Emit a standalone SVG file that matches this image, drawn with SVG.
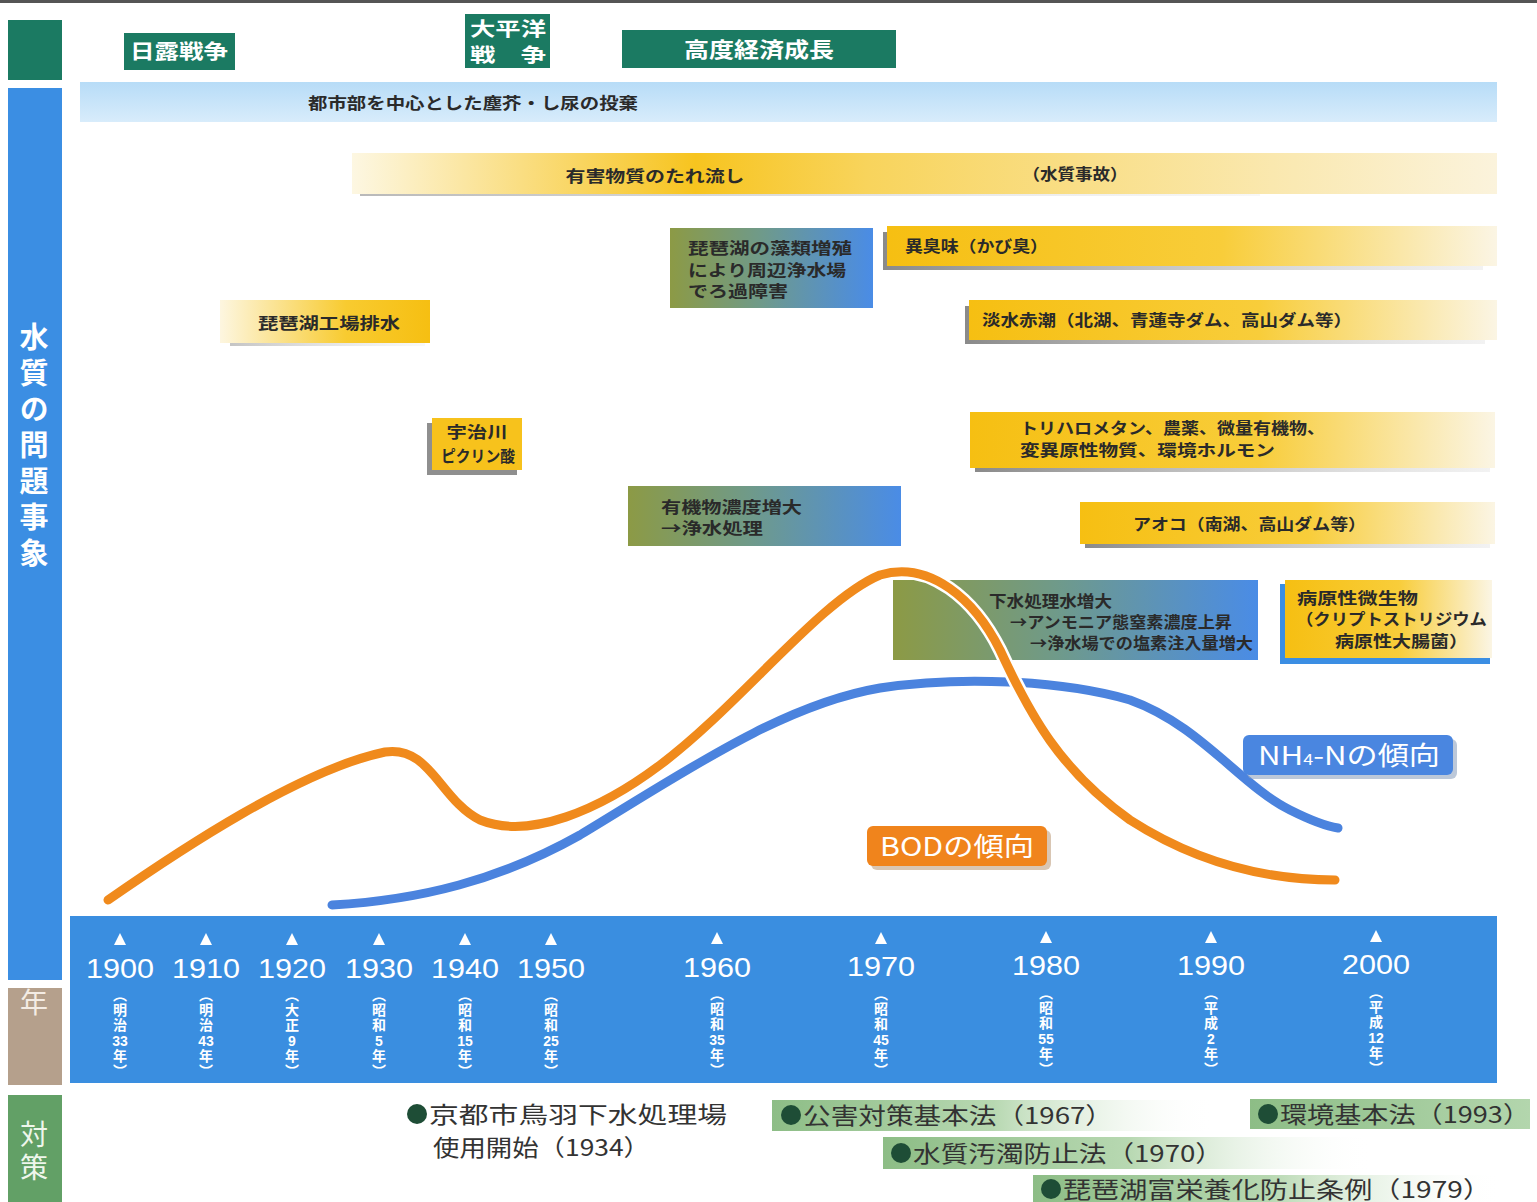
<svg xmlns="http://www.w3.org/2000/svg" width="1537" height="1202" viewBox="0 0 1537 1202">
<defs>
<style>
.jp{font-family:"Noto Sans CJK JP","Noto Sans CJK SC",sans-serif;}
.dk{fill:#2a2a2a;font-weight:bold;font-size:16px;}
.wh{fill:#ffffff;font-weight:bold;}
.yr{font-family:"Liberation Sans","DejaVu Sans",sans-serif;fill:#ffffff;font-size:28px;text-anchor:middle;}
.vv{fill:#ffffff;font-size:14px;font-weight:bold;writing-mode:vertical-rl;letter-spacing:1px;}
.dg{font-family:"Liberation Sans","DejaVu Sans",sans-serif;fill:#ffffff;font-size:14px;font-weight:bold;text-anchor:middle;}
.ms{fill:#333333;font-size:23px;}
.bul{fill:#1e4d36;}
.teal{fill:#1b7a62;}
.shadow{fill:url(#shadowG);}
.curve{fill:none;stroke-linecap:round;}
</style>
<linearGradient id="blueBand" x1="0" y1="0" x2="0" y2="1">
<stop offset="0" stop-color="#b7dcf7"/><stop offset="1" stop-color="#d8ecfb"/>
</linearGradient>
<linearGradient id="yelMid" x1="0" y1="0" x2="1" y2="0">
<stop offset="0" stop-color="#fdf7e2"/><stop offset="0.3" stop-color="#f7c41f"/><stop offset="0.45" stop-color="#f8d45c"/><stop offset="1" stop-color="#fbf3dc"/>
</linearGradient>
<linearGradient id="yelR" x1="0" y1="0" x2="1" y2="0">
<stop offset="0" stop-color="#f6bf12"/><stop offset="0.55" stop-color="#f8cd3a"/><stop offset="1" stop-color="#fbf5e4"/>
</linearGradient>
<linearGradient id="yelL" x1="0" y1="0" x2="1" y2="0">
<stop offset="0" stop-color="#fdf6e0"/><stop offset="0.6" stop-color="#f8cb30"/><stop offset="1" stop-color="#f6bf12"/>
</linearGradient>
<linearGradient id="oliveBlue" x1="0" y1="0" x2="1" y2="0">
<stop offset="0" stop-color="#8c9a45"/><stop offset="0.45" stop-color="#6f9a8a"/><stop offset="1" stop-color="#4a8ce6"/>
</linearGradient>
<linearGradient id="shadowG" x1="0" y1="0" x2="1" y2="0">
<stop offset="0" stop-color="#8a8a8a"/><stop offset="1" stop-color="#bfbfbf" stop-opacity="0.2"/>
</linearGradient>
<linearGradient id="greenFade" x1="0" y1="0" x2="1" y2="0">
<stop offset="0" stop-color="#8dbd86"/><stop offset="0.5" stop-color="#b7d8b1"/><stop offset="1" stop-color="#ffffff" stop-opacity="0"/>
</linearGradient>
<linearGradient id="greenSolid" x1="0" y1="0" x2="1" y2="0">
<stop offset="0" stop-color="#8dbd86"/><stop offset="1" stop-color="#b3d6ad"/>
</linearGradient>
</defs>

<rect x="0" y="0" width="1537" height="1202" fill="#ffffff"/>
<rect x="0" y="0" width="1537" height="3" fill="#555555"/>

<!-- left column -->
<g id="left-column">
<rect x="8" y="20" width="54" height="60" class="teal"/>
<rect x="8" y="88" width="54" height="892" fill="#3b8ee3"/>
<text x="34" y="322" class="jp wh" font-size="29" writing-mode="vertical-rl" letter-spacing="7">水質の問題事象</text>
<rect x="8" y="988" width="54" height="97" fill="#b5a08c"/>
<text x="34" y="1013" class="jp" fill="#f4ece4" font-size="28" text-anchor="middle">年</text>
<rect x="8" y="1095" width="54" height="107" fill="#62a066"/>
<text x="34" y="1120" class="jp" fill="#eef6ec" font-size="28" writing-mode="vertical-rl" letter-spacing="5">対策</text>
</g>

<!-- header events -->
<g id="ev-nichiro">
<rect x="124" y="33" width="111" height="37" class="teal"/>
<text x="179" y="59" class="jp wh" font-size="20" text-anchor="middle" textLength="98" lengthAdjust="spacingAndGlyphs">日露戦争</text>
</g>
<g id="ev-taiheiyo">
<rect x="465" y="14" width="85" height="54" class="teal"/>
<text x="508" y="36" class="jp wh" font-size="19" text-anchor="middle" textLength="76" lengthAdjust="spacingAndGlyphs">大平洋</text>
<text x="508" y="62" class="jp wh" font-size="19" text-anchor="middle" textLength="76" lengthAdjust="spacingAndGlyphs">戦　争</text>
</g>
<g id="ev-koudo">
<rect x="622" y="30" width="274" height="38" class="teal"/>
<text x="759" y="57" class="jp wh" font-size="21" text-anchor="middle" textLength="150" lengthAdjust="spacingAndGlyphs">高度経済成長</text>
</g>

<!-- problem bands -->
<g id="p-toshi">
<rect x="80" y="82" width="1417" height="40" fill="url(#blueBand)"/>
<text x="473" y="109" class="jp dk" font-size="16" text-anchor="middle" textLength="330" lengthAdjust="spacingAndGlyphs">都市部を中心とした塵芥・し尿の投棄</text>
</g>
<g id="p-yugai">
<rect x="360" y="190" width="900" height="6" class="shadow" opacity="0.6"/>
<rect x="352" y="153" width="1145" height="41" fill="url(#yelMid)"/>
<text x="655" y="182" class="jp dk" font-size="18" text-anchor="middle" textLength="179" lengthAdjust="spacingAndGlyphs">有害物質のたれ流し</text>
<text x="1075" y="180" class="jp dk" font-size="16" text-anchor="middle" fill="#444" textLength="105" lengthAdjust="spacingAndGlyphs">（水質事故）</text>
</g>
<g id="p-biwako-sorui">
<rect x="670" y="228" width="203" height="80" fill="url(#oliveBlue)"/>
<text x="688" y="254" class="jp dk" font-size="17" textLength="164" lengthAdjust="spacingAndGlyphs">琵琶湖の藻類増殖</text>
<text x="688" y="276" class="jp dk" font-size="17" textLength="158" lengthAdjust="spacingAndGlyphs">により周辺浄水場</text>
<text x="688" y="297" class="jp dk" font-size="17" textLength="100" lengthAdjust="spacingAndGlyphs">でろ過障害</text>
</g>
<g id="p-ishumi">
<rect x="883" y="232" width="600" height="38" class="shadow"/>
<rect x="887" y="226" width="610" height="40" fill="url(#yelR)"/>
<text x="905" y="252" class="jp dk" font-size="17" textLength="143" lengthAdjust="spacingAndGlyphs">異臭味（かび臭）</text>
</g>
<g id="p-tansui">
<rect x="965" y="306" width="520" height="38" class="shadow"/>
<rect x="969" y="300" width="528" height="40" fill="url(#yelR)"/>
<text x="982" y="326" class="jp dk" font-size="17" textLength="370" lengthAdjust="spacingAndGlyphs">淡水赤潮（北湖、青蓮寺ダム、高山ダム等）</text>
</g>
<g id="p-biwako-kojo">
<rect x="230" y="338" width="195" height="8" class="shadow" opacity="0.5"/>
<rect x="220" y="300" width="210" height="43" fill="url(#yelL)"/>
<text x="329" y="329" class="jp dk" font-size="17" text-anchor="middle" textLength="142" lengthAdjust="spacingAndGlyphs">琵琶湖工場排水</text>
</g>
<g id="p-ujigawa">
<rect x="427" y="423" width="90" height="52" fill="#8f8f8f"/>
<rect x="432" y="418" width="90" height="52" fill="#f7c21c"/>
<text x="477" y="438" class="jp dk" font-size="15" text-anchor="middle" textLength="61" lengthAdjust="spacingAndGlyphs">宇治川</text>
<text x="478" y="462" class="jp dk" font-size="15" text-anchor="middle" textLength="74" lengthAdjust="spacingAndGlyphs">ピクリン酸</text>
</g>
<g id="p-torihalo">
<rect x="975" y="420" width="515" height="52" class="shadow"/>
<rect x="970" y="412" width="525" height="56" fill="url(#yelR)"/>
<text x="1020" y="434" class="jp dk" font-size="17" textLength="305" lengthAdjust="spacingAndGlyphs">トリハロメタン、農薬、微量有機物、</text>
<text x="1020" y="456" class="jp dk" font-size="17" textLength="255" lengthAdjust="spacingAndGlyphs">変異原性物質、環境ホルモン</text>
</g>
<g id="p-aoko">
<rect x="1085" y="508" width="405" height="40" class="shadow"/>
<rect x="1080" y="502" width="415" height="42" fill="url(#yelR)"/>
<text x="1133" y="530" class="jp dk" font-size="17" textLength="233" lengthAdjust="spacingAndGlyphs">アオコ（南湖、高山ダム等）</text>
</g>
<g id="p-yukibutsu">
<rect x="628" y="486" width="273" height="60" fill="url(#oliveBlue)"/>
<text x="661" y="513" class="jp dk" font-size="15.5" textLength="141" lengthAdjust="spacingAndGlyphs">有機物濃度増大</text>
<text x="661" y="534" class="jp dk" font-size="15.5" textLength="102" lengthAdjust="spacingAndGlyphs">→浄水処理</text>
</g>
<g id="p-gesui">
<rect x="893" y="580" width="365" height="80" fill="url(#oliveBlue)"/>
<text x="989" y="607" class="jp dk" font-size="16" textLength="123" lengthAdjust="spacingAndGlyphs">下水処理水増大</text>
<text x="1010" y="628" class="jp dk" font-size="16" textLength="222" lengthAdjust="spacingAndGlyphs">→アンモニア態窒素濃度上昇</text>
<text x="1030" y="649" class="jp dk" font-size="16" textLength="223" lengthAdjust="spacingAndGlyphs">→浄水場での塩素注入量増大</text>
</g>
<g id="p-byogen">
<rect x="1280" y="584" width="210" height="80" fill="#3b8ee3"/>
<rect x="1285" y="580" width="207" height="78" fill="url(#yelR)"/>
<text x="1297" y="604" class="jp dk" font-size="16" textLength="121" lengthAdjust="spacingAndGlyphs">病原性微生物</text>
<text x="1296" y="625" class="jp dk" font-size="16" textLength="191" lengthAdjust="spacingAndGlyphs">（クリプトストリジウム</text>
<text x="1335" y="647" class="jp dk" font-size="16" textLength="133" lengthAdjust="spacingAndGlyphs">病原性大腸菌）</text>
</g>

<!-- trend curves -->
<g id="connectors">
<path class="curve" d="M332,905 C420,900 500,880 580,835 C680,775 780,705 880,688 C960,676 1060,680 1130,700 C1200,725 1240,785 1290,810 C1310,820 1325,826 1338,828" stroke="#ffffff" stroke-width="14"/>
<path class="curve" d="M332,905 C420,900 500,880 580,835 C680,775 780,705 880,688 C960,676 1060,680 1130,700 C1200,725 1240,785 1290,810 C1310,820 1325,826 1338,828" stroke="#4b83de" stroke-width="9"/>
<path class="curve" d="M108,900 C180,850 300,770 385,752 C430,745 440,800 480,820 C530,840 600,810 660,765 C740,705 820,600 880,575 C930,560 975,600 1000,650 C1030,715 1060,770 1130,820 C1200,865 1270,880 1335,880" stroke="#ffffff" stroke-width="14"/>
<path class="curve" d="M108,900 C180,850 300,770 385,752 C430,745 440,800 480,820 C530,840 600,810 660,765 C740,705 820,600 880,575 C930,560 975,600 1000,650 C1030,715 1060,770 1130,820 C1200,865 1270,880 1335,880" stroke="#f08a1c" stroke-width="9"/>
</g>
<g id="label-nh4">
<rect x="1247" y="739" width="210" height="40" rx="6" fill="#8fa3c0" opacity="0.6"/>
<rect x="1243" y="735" width="210" height="40" rx="6" fill="#4a86e0"/>
<text x="1258" y="765" class="jp" fill="#ffffff" font-size="26" textLength="182" lengthAdjust="spacingAndGlyphs">NH<tspan font-size="15">4</tspan>-Nの傾向</text>
</g>
<g id="label-bod">
<rect x="871" y="830" width="180" height="40" rx="6" fill="#c0a080" opacity="0.6"/>
<rect x="867" y="826" width="180" height="40" rx="6" fill="#f0841c"/>
<text x="957" y="856" class="jp" fill="#ffffff" font-size="26" text-anchor="middle" textLength="154" lengthAdjust="spacingAndGlyphs">BODの傾向</text>
</g>

<!-- year axis -->
<g id="axis">
<rect x="70" y="916" width="1427" height="167" fill="#3a8ee0"/>
<g fill="#ffffff">
<path d="M120,933 l-6,12 h12 z"/><path d="M206,933 l-6,12 h12 z"/><path d="M292,933 l-6,12 h12 z"/><path d="M379,933 l-6,12 h12 z"/><path d="M465,933 l-6,12 h12 z"/><path d="M551,933 l-6,12 h12 z"/><path d="M717,932 l-6,12 h12 z"/><path d="M881,932 l-6,12 h12 z"/><path d="M1046,931 l-6,12 h12 z"/><path d="M1211,931 l-6,12 h12 z"/><path d="M1376,930 l-6,12 h12 z"/>
</g>
<text x="120" y="978" class="yr" textLength="68" lengthAdjust="spacingAndGlyphs">1900</text>
<text x="206" y="978" class="yr" textLength="68" lengthAdjust="spacingAndGlyphs">1910</text>
<text x="292" y="978" class="yr" textLength="68" lengthAdjust="spacingAndGlyphs">1920</text>
<text x="379" y="978" class="yr" textLength="68" lengthAdjust="spacingAndGlyphs">1930</text>
<text x="465" y="978" class="yr" textLength="68" lengthAdjust="spacingAndGlyphs">1940</text>
<text x="551" y="978" class="yr" textLength="68" lengthAdjust="spacingAndGlyphs">1950</text>
<text x="717" y="977" class="yr" textLength="68" lengthAdjust="spacingAndGlyphs">1960</text>
<text x="881" y="976" class="yr" textLength="68" lengthAdjust="spacingAndGlyphs">1970</text>
<text x="1046" y="975" class="yr" textLength="68" lengthAdjust="spacingAndGlyphs">1980</text>
<text x="1211" y="975" class="yr" textLength="68" lengthAdjust="spacingAndGlyphs">1990</text>
<text x="1376" y="974" class="yr" textLength="68" lengthAdjust="spacingAndGlyphs">2000</text>
<g class="jp vv">
<text x="120" y="988">（明治</text><text x="120" y="1049">年）</text>
<text x="206" y="988">（明治</text><text x="206" y="1049">年）</text>
<text x="292" y="988">（大正</text><text x="292" y="1049">年）</text>
<text x="379" y="988">（昭和</text><text x="379" y="1049">年）</text>
<text x="465" y="988">（昭和</text><text x="465" y="1049">年）</text>
<text x="551" y="988">（昭和</text><text x="551" y="1049">年）</text>
<text x="717" y="987">（昭和</text><text x="717" y="1048">年）</text>
<text x="881" y="987">（昭和</text><text x="881" y="1048">年）</text>
<text x="1046" y="986">（昭和</text><text x="1046" y="1047">年）</text>
<text x="1211" y="986">（平成</text><text x="1211" y="1047">年）</text>
<text x="1376" y="985">（平成</text><text x="1376" y="1046">年）</text>
</g>
<g class="dg">
<text x="120" y="1046">33</text>
<text x="206" y="1046">43</text>
<text x="292" y="1046">9</text>
<text x="379" y="1046">5</text>
<text x="465" y="1046">15</text>
<text x="551" y="1046">25</text>
<text x="717" y="1045">35</text>
<text x="881" y="1045">45</text>
<text x="1046" y="1044">55</text>
<text x="1211" y="1044">2</text>
<text x="1376" y="1043">12</text>
</g>
</g>

<!-- measures -->
<g id="m-toba">
<circle cx="417" cy="1114" r="10" class="bul"/>
<text x="429" y="1123" class="jp ms" textLength="298" lengthAdjust="spacingAndGlyphs">京都市鳥羽下水処理場</text>
<text x="433" y="1156" class="jp ms" textLength="217" lengthAdjust="spacingAndGlyphs">使用開始（1934）</text>
</g>
<g id="m-kougai">
<rect x="772" y="1100" width="443" height="31" fill="url(#greenFade)"/>
<circle cx="791" cy="1115" r="10" class="bul"/>
<text x="803" y="1124" class="jp ms" textLength="310" lengthAdjust="spacingAndGlyphs">公害対策基本法（1967）</text>
</g>
<g id="m-kankyo">
<rect x="1250" y="1099" width="280" height="30" fill="url(#greenSolid)"/>
<circle cx="1268" cy="1114" r="10" class="bul"/>
<text x="1280" y="1123" class="jp ms" textLength="250" lengthAdjust="spacingAndGlyphs">環境基本法（1993）</text>
</g>
<g id="m-suishitsu">
<rect x="883" y="1137" width="490" height="32" fill="url(#greenFade)"/>
<circle cx="901" cy="1153" r="10" class="bul"/>
<text x="913" y="1162" class="jp ms" textLength="310" lengthAdjust="spacingAndGlyphs">水質汚濁防止法（1970）</text>
</g>
<g id="m-biwako">
<rect x="1033" y="1175" width="470" height="27" fill="url(#greenFade)"/>
<circle cx="1051" cy="1189" r="10" class="bul"/>
<text x="1063" y="1198" class="jp ms" textLength="428" lengthAdjust="spacingAndGlyphs">琵琶湖富栄養化防止条例（1979）</text>
</g>
</svg>
